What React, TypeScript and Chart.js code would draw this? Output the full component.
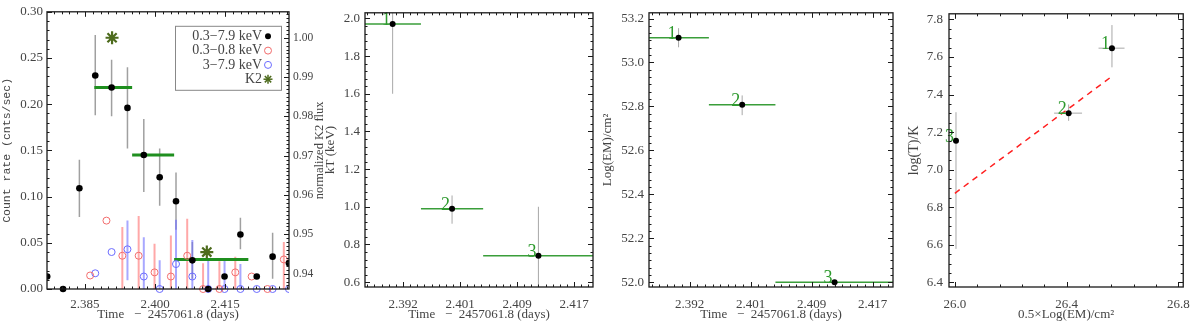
import React, { useEffect, useRef } from "react";
import { Chart, registerables } from "chart.js";
Chart.register(...registerables);

// ---------------- Panel 1: X-ray light curves ----------------
const lcTimes = [2.3769, 2.3803, 2.3838, 2.3872, 2.3907, 2.3941, 2.3976, 2.4010, 2.4045, 2.4080, 2.4114, 2.4149, 2.4183, 2.4218, 2.4252, 2.4287];
const rateBroad = [0.0135, 0.0, 0.109, 0.231, 0.218, 0.196, 0.145, 0.121, 0.095, 0.031, 0.0, 0.0135, 0.059, 0.0135, 0.035, 0.028];
const rateBroadLo = [0.0135, 0.0, 0.078, 0.188, 0.187, 0.152, 0.105, 0.090, 0.064, 0.011, 0.0, 0.0135, 0.043, 0.0135, 0.011, 0.028];
const rateBroadHi = [0.0135, 0.0, 0.140, 0.275, 0.248, 0.240, 0.184, 0.152, 0.126, 0.051, 0.0, 0.0135, 0.077, 0.0135, 0.061, 0.028];

const softTimes = [2.3861, 2.3896, 2.3930, 2.3965, 2.3999, 2.4034, 2.4069, 2.4103, 2.4138, 2.4172, 2.4207, 2.4241, 2.4276];
const rateSoft = [0.0146, 0.074, 0.036, 0.036, 0.018, 0.0135, 0.036, 0.0, 0.0, 0.018, 0.0135, 0.0, 0.032];
const rateSoftLo = [0.0146, 0.074, 0.0, 0.0, 0.0, 0.0, 0.0, 0.0, 0.0, 0.0, 0.0135, 0.0, 0.0];
const rateSoftHi = [0.0146, 0.074, 0.067, 0.079, 0.049, 0.058, 0.076, 0.028, 0.030, 0.035, 0.0135, 0.0, 0.051];

const hardTimes = [2.3872, 2.3907, 2.3941, 2.3976, 2.4010, 2.4045, 2.4080, 2.4114, 2.4149, 2.4183, 2.4218, 2.4252, 2.4287];
const rateHard = [0.017, 0.040, 0.043, 0.0135, 0.0, 0.027, 0.0135, 0.0, 0.0, 0.0, 0.0, 0.0, 0.0];
const rateHardLo = [0.017, 0.040, 0.0095, 0.0, 0.0, 0.0, 0.0, 0.0, 0.0, 0.0, 0.0, 0.0, 0.0];
const rateHardHi = [0.017, 0.040, 0.074, 0.056, 0.031, 0.075, 0.053, 0.032, 0.032, 0.027, 0.0, 0.0, 0.0];

const k2Times = [2.3908, 2.4111];
const k2Flux = [1.0, 0.9455];

const segStart = [2.387, 2.3951, 2.4041];
const segEnd = [2.3951, 2.4041, 2.42];
const segRate = [0.218, 0.145, 0.032];

const lcXTicks = [2.385, 2.4, 2.415];
const lcXLabels = ["2.385", "2.400", "2.415"];
const lcYTicks = [0, 0.05, 0.1, 0.15, 0.2, 0.25, 0.3];
const lcYLabels = ["0.00", "0.05", "0.10", "0.15", "0.20", "0.25", "0.30"];
const k2Ticks = [0.94, 0.95, 0.96, 0.97, 0.98, 0.99, 1.0];
const k2Labels = ["0.94", "0.95", "0.96", "0.97", "0.98", "0.99", "1.00"];

// ---------------- Panels 2-4: spectral fits ----------------
const specTimes = [2.391, 2.3996, 2.4121];
const specLabels = ["1", "2", "3"];
const kT = [1.97, 0.99, 0.74];
const kTLo = [1.6, 0.91, 0.5];
const kTHi = [2.1, 1.06, 1.0];
const logEM = [53.113, 52.807, 52.0];
const logEMLo = [53.069, 52.76, 52.0];
const logEMHi = [53.156, 52.85, 52.0];

const timeTicks = [2.3925, 2.40075, 2.409, 2.41725];
const timeLabels = ["2.392", "2.401", "2.409", "2.417"];
const kTTicks = [0.6, 0.8, 1.0, 1.2, 1.4, 1.6, 1.8, 2.0];
const kTLabels = ["0.6", "0.8", "1.0", "1.2", "1.4", "1.6", "1.8", "2.0"];
const emTicks = [52.0, 52.2, 52.4, 52.6, 52.8, 53.0, 53.2];
const emLabels = ["52.0", "52.2", "52.4", "52.6", "52.8", "53.0", "53.2"];

const halfEM = [26.562, 26.407, 26.004];
const halfEMLo = [26.514, 26.355, 26.004];
const halfEMHi = [26.607, 26.455, 26.004];
const logT = [7.647, 7.301, 7.154];
const logTLo = [7.545, 7.26, 6.578];
const logTHi = [7.77, 7.347, 7.306];
const fitX = [26.0, 26.56];
const fitY = [6.874, 7.495];
const emXTicks = [26.0, 26.4, 26.8];
const emXLabels = ["26.0", "26.4", "26.8"];
const tTicks = [6.4, 6.6, 6.8, 7.0, 7.2, 7.4, 7.6, 7.8];
const tLabels = ["6.4", "6.6", "6.8", "7.0", "7.2", "7.4", "7.6", "7.8"];

// ---------------- styling ----------------
const SERIF = "'Liberation Serif', 'Times New Roman', serif";
const MONO = "'Liberation Mono', 'Courier New', monospace";
const TXT = "#444";
const GREEN_BAR = "#1f8f1f";
const GREEN_THIN = "#3a9e3a";
const GREEN_TXT = "#2e9a2e";
const OLIVE = "#4d6b1d";
const RED = "#f26d6d";
const BLUE = "#6b6bff";

function line(ctx: any, x1: number, y1: number, x2: number, y2: number) {
  ctx.beginPath();
  ctx.moveTo(x1, y1);
  ctx.lineTo(x2, y2);
  ctx.stroke();
}

type TickSpec = { id: string; majors: number[]; minor: number; sides: string[] };
type Spec = { axes: TickSpec[]; legend?: boolean; sideTitle?: string };

function makePlugin(spec: Spec) {
  return {
    id: "idl",
    beforeDatasetsDraw(chart: any) {
      const { ctx, chartArea: a } = chart;
      ctx.save();
      ctx.beginPath();
      ctx.rect(a.left, a.top, a.right - a.left, a.bottom - a.top);
      ctx.clip();
      chart.data.datasets.forEach((ds: any, di: number) => {
        if (!ds.errY && !ds.errX) return;
        const meta = chart.getDatasetMeta(di);
        const xs = chart.scales[meta.xAxisID];
        const ys = chart.scales[meta.yAxisID];
        ctx.strokeStyle = ds.errColor;
        ctx.lineWidth = ds.errWidth;
        ds.data.forEach((p: any, i: number) => {
          const px = xs.getPixelForValue(p.x);
          const py = ys.getPixelForValue(p.y);
          if (ds.errY && ds.errY[1][i] > ds.errY[0][i]) {
            line(ctx, px, ys.getPixelForValue(ds.errY[0][i]), px, ys.getPixelForValue(ds.errY[1][i]));
          }
          if (ds.errX && ds.errX[1][i] > ds.errX[0][i]) {
            line(ctx, xs.getPixelForValue(ds.errX[0][i]), py, xs.getPixelForValue(ds.errX[1][i]), py);
          }
        });
      });
      ctx.restore();
    },
    afterDatasetsDraw(chart: any) {
      const { ctx } = chart;
      ctx.save();
      chart.data.datasets.forEach((ds: any, di: number) => {
        if (!ds.pointLabels) return;
        const meta = chart.getDatasetMeta(di);
        const xs = chart.scales[meta.xAxisID];
        const ys = chart.scales[meta.yAxisID];
        ctx.font = `18px ${SERIF}`;
        ctx.fillStyle = GREEN_TXT;
        ctx.textAlign = "right";
        ctx.textBaseline = "alphabetic";
        ds.data.forEach((p: any, i: number) => {
          ctx.fillText(ds.pointLabels[i], xs.getPixelForValue(p.x) - 2, ys.getPixelForValue(p.y) + 1);
        });
      });
      ctx.restore();
    },
    afterDraw(chart: any) {
      const { ctx, chartArea: a } = chart;
      ctx.save();
      ctx.strokeStyle = "#1a1a1a";
      ctx.lineWidth = 1.3;
      ctx.strokeRect(a.left, a.top, a.right - a.left, a.bottom - a.top);
      ctx.lineWidth = 1;
      for (const ax of spec.axes) {
        const s = chart.scales[ax.id];
        const ticks: [number, number][] = ax.majors.map((v) => [v, 5] as [number, number]);
        const base = ax.majors[0];
        const kmin = Math.ceil((s.min - base) / ax.minor - 1e-6);
        const kmax = Math.floor((s.max - base) / ax.minor + 1e-6);
        for (let k = kmin; k <= kmax; k++) {
          const v = base + k * ax.minor;
          if (!ax.majors.some((m) => Math.abs(m - v) < ax.minor * 0.3)) ticks.push([v, 2.5]);
        }
        for (const [v, len] of ticks) {
          const p = Math.round(s.getPixelForValue(v)) + 0.5;
          for (const side of ax.sides) {
            if (side === "bottom") line(ctx, p, a.bottom, p, a.bottom - len);
            if (side === "top") line(ctx, p, a.top, p, a.top + len);
            if (side === "left") line(ctx, a.left, p, a.left + len, p);
            if (side === "right") line(ctx, a.right, p, a.right - len, p);
          }
        }
      }
      if (spec.sideTitle) {
        ctx.save();
        ctx.translate(a.right + 31, (a.top + a.bottom) / 2);
        ctx.rotate(-Math.PI / 2);
        ctx.font = `12.5px ${SERIF}`;
        ctx.fillStyle = TXT;
        ctx.textAlign = "center";
        ctx.textBaseline = "middle";
        ctx.fillText(spec.sideTitle, 0, 0);
        ctx.restore();
      }
      if (spec.legend) {
        const bx0 = a.right - 114;
        const by0 = a.top + 14;
        const bw = 106;
        const bh = 64;
        ctx.fillStyle = "#fff";
        ctx.fillRect(bx0, by0, bw, bh);
        ctx.strokeStyle = "#888";
        ctx.lineWidth = 1;
        ctx.strokeRect(bx0 + 0.5, by0 + 0.5, bw, bh);
        const items = [
          { t: "0.3\u22127.9 keV", k: "dot", c: "#000" },
          { t: "0.3\u22120.8 keV", k: "ring", c: RED },
          { t: "3\u22127.9 keV", k: "ring", c: BLUE },
          { t: "K2", k: "star", c: OLIVE },
        ];
        ctx.font = `14px ${SERIF}`;
        ctx.textAlign = "right";
        ctx.textBaseline = "middle";
        items.forEach((it, i) => {
          const y = by0 + 10.5 + i * 14.3;
          const sx = bx0 + bw - 13;
          ctx.fillStyle = TXT;
          ctx.fillText(it.t, sx - 6, y);
          ctx.strokeStyle = it.c;
          ctx.fillStyle = it.c;
          if (it.k === "dot") {
            ctx.beginPath();
            ctx.arc(sx, y, 3, 0, Math.PI * 2);
            ctx.fill();
          } else if (it.k === "ring") {
            ctx.lineWidth = 1;
            ctx.beginPath();
            ctx.arc(sx, y, 3.5, 0, Math.PI * 2);
            ctx.stroke();
          } else {
            ctx.lineWidth = 1.5;
            const r = 4.5;
            for (let j = 0; j < 4; j++) {
              const ang = (j * Math.PI) / 4;
              line(ctx, sx - r * Math.cos(ang), y - r * Math.sin(ang), sx + r * Math.cos(ang), y + r * Math.sin(ang));
            }
          }
        });
      }
      ctx.restore();
    },
  };
}

function fixedAxis(values: number[], labels: string[], extra: any) {
  const { size = 13, width, height, title, titleFont, titlePad = 0, pad = 5, ...rest } = extra;
  return {
    type: "linear",
    ...rest,
    afterBuildTicks: (axis: any) => {
      axis.ticks = values.map((v) => ({ value: v }));
    },
    afterFit: (s: any) => {
      if (width !== undefined) s.width = width;
      if (height !== undefined) s.height = height;
    },
    ticks: {
      callback: (_v: any, i: number) => labels[i],
      font: { family: SERIF, size },
      color: TXT,
      padding: pad,
      maxRotation: 0,
      minRotation: 0,
      autoSkip: false,
    },
    grid: { display: false, drawTicks: false },
    border: { display: false },
    title: title
      ? { display: true, text: title, color: TXT, font: titleFont || { family: SERIF, size: 13 }, padding: { top: titlePad, bottom: 0 } }
      : { display: false },
  };
}

const baseOptions = (padRight: number) => ({
  responsive: false,
  animation: false,
  events: [],
  layout: { padding: { left: 0, right: padRight, top: 1, bottom: 0 }, autoPadding: false },
  plugins: { legend: { display: false }, tooltip: { enabled: false } },
});

const pts = (xs: number[], ys: number[]) => xs.map((x, i) => ({ x, y: ys[i] }));
const TIME_TITLE = "Time   \u2212  2457061.8 (days)";

function lightCurveConfig(): any {
  return {
    type: "scatter",
    data: {
      datasets: [
        {
          data: pts(lcTimes, rateBroad),
          errY: [rateBroadLo, rateBroadHi],
          errColor: "#a0a0a0",
          errWidth: 1.5,
          pointRadius: 3.3,
          backgroundColor: "#000",
          borderColor: "#000",
          borderWidth: 0,
          yAxisID: "y",
          clip: { left: 0, right: 0, top: 0, bottom: 8 },
        },
        {
          data: pts(softTimes, rateSoft),
          errY: [rateSoftLo, rateSoftHi],
          errColor: "rgba(255,110,110,0.6)",
          errWidth: 2,
          pointRadius: 3.5,
          backgroundColor: "rgba(0,0,0,0)",
          borderColor: RED,
          borderWidth: 1,
          yAxisID: "y",
          clip: { left: 0, right: 0, top: 0, bottom: 8 },
        },
        {
          data: pts(hardTimes, rateHard),
          errY: [rateHardLo, rateHardHi],
          errColor: "rgba(110,110,255,0.6)",
          errWidth: 2,
          pointRadius: 3.5,
          backgroundColor: "rgba(0,0,0,0)",
          borderColor: BLUE,
          borderWidth: 1,
          yAxisID: "y",
          clip: { left: 0, right: 0, top: 0, bottom: 8 },
        },
        {
          data: pts(k2Times, k2Flux),
          pointStyle: "star",
          pointRadius: 6.5,
          borderColor: OLIVE,
          backgroundColor: OLIVE,
          borderWidth: 2.2,
          yAxisID: "y2",
        },
        ...segStart.map((s, i) => ({
          data: [
            { x: s, y: segRate[i] },
            { x: segEnd[i], y: segRate[i] },
          ],
          showLine: true,
          pointRadius: 0,
          borderColor: GREEN_BAR,
          borderWidth: 3,
          yAxisID: "y",
        })),
      ],
    },
    options: {
      ...baseOptions(0),
      scales: {
        x: fixedAxis(lcXTicks, lcXLabels, { position: "bottom", min: 2.37686, max: 2.42871, height: 33, pad: 8, title: TIME_TITLE }),
        y: fixedAxis(lcYTicks, lcYLabels, {
          position: "left",
          min: 0,
          max: 0.3,
          width: 47,
          pad: 4,
          title: "Count rate (cnts/sec)",
          titleFont: { family: MONO, size: 11.5 },
        }),
        y2: fixedAxis(k2Ticks, k2Labels, { position: "right", min: 0.9361, max: 1.0066, width: 37, pad: 4, size: 11.5 }),
      },
    },
    plugins: [
      makePlugin({
        axes: [
          { id: "x", majors: lcXTicks, minor: 0.015 / 9, sides: ["bottom", "top"] },
          { id: "y", majors: lcYTicks, minor: 0.01, sides: ["left"] },
          { id: "y2", majors: k2Ticks, minor: 0.001, sides: ["right"] },
        ],
        legend: true,
        sideTitle: "normalized K2 flux",
      }),
    ],
  };
}

function timePanelConfig(vals: number[], lo: number[], hi: number[], yTicks: number[], yLabels: string[], yMin: number, yMax: number, yTitle: string, yWidth: number, titlePad: number, yMinor: number): any {
  return {
    type: "scatter",
    data: {
      datasets: [
        {
          data: pts(specTimes, vals),
          errY: [lo, hi],
          errColor: "#a8a8a8",
          errWidth: 1,
          pointLabels: specLabels,
          pointRadius: 3,
          backgroundColor: "#000",
          borderColor: "#000",
          borderWidth: 0,
          clip: false,
        },
        ...segStart.map((s, i) => ({
          data: [
            { x: s, y: vals[i] },
            { x: segEnd[i], y: vals[i] },
          ],
          showLine: true,
          pointRadius: 0,
          borderColor: GREEN_THIN,
          borderWidth: 1.5,
        })),
      ],
    },
    options: {
      ...baseOptions(7),
      scales: {
        x: fixedAxis(timeTicks, timeLabels, { position: "bottom", min: 2.387, max: 2.42, height: 35, pad: 10, title: TIME_TITLE }),
        y: fixedAxis(yTicks, yLabels, { position: "left", min: yMin, max: yMax, width: yWidth, pad: 5, title: yTitle, titlePad }),
      },
    },
    plugins: [
      makePlugin({
        axes: [
          { id: "x", majors: timeTicks, minor: 0.00825 / 8, sides: ["bottom", "top"] },
          { id: "y", majors: yTicks, minor: yMinor, sides: ["left", "right"] },
        ],
      }),
    ],
  };
}

function ratioConfig(): any {
  return {
    type: "scatter",
    data: {
      datasets: [
        {
          data: pts(halfEM, logT),
          errY: [logTLo, logTHi],
          errX: [halfEMLo, halfEMHi],
          errColor: "#a8a8a8",
          errWidth: 1,
          pointLabels: specLabels,
          pointRadius: 3,
          backgroundColor: "#000",
          borderColor: "#000",
          borderWidth: 0,
          clip: false,
        },
        {
          data: pts(fitX, fitY),
          showLine: true,
          pointRadius: 0,
          borderColor: "#ff2020",
          borderWidth: 1.5,
          borderDash: [6, 5],
        },
      ],
    },
    options: {
      ...baseOptions(7),
      scales: {
        x: fixedAxis(emXTicks, emXLabels, { position: "bottom", min: 25.979, max: 26.817, height: 35, pad: 10, title: "0.5\u00d7Log(EM)/cm\u00b2" }),
        y: fixedAxis(tTicks, tLabels, { position: "left", min: 6.375, max: 7.83, width: 49, pad: 6, title: "log(T)/K", titlePad: 6, titleFont: { family: SERIF, size: 14 } }),
      },
    },
    plugins: [
      makePlugin({
        axes: [
          { id: "x", majors: emXTicks, minor: 0.08, sides: ["bottom", "top"] },
          { id: "y", majors: tTicks, minor: 0.05, sides: ["left", "right"] },
        ],
      }),
    ],
  };
}

function Panel({ left, width, make }: { left: number; width: number; make: () => any }) {
  const ref = useRef<HTMLCanvasElement>(null);
  useEffect(() => {
    const chart = new Chart(ref.current as HTMLCanvasElement, make());
    return () => chart.destroy();
  }, []);
  return (
    <div style={{ position: "absolute", left, top: 0, width, height: 322 }}>
      <canvas ref={ref} width={width} height={322} style={{ width, height: 322, display: "block" }} />
    </div>
  );
}

export default function App() {
  return (
    <div style={{ position: "fixed", left: 0, top: 0, width: 1200, height: 322, background: "#fff", overflow: "hidden" }}>
      <Panel left={0} width={326} make={lightCurveConfig} />
      <Panel
        left={300}
        width={300}
        make={() => timePanelConfig(kT, kTLo, kTHi, kTTicks, kTLabels, 0.574, 2.03, "kT (keV)", 65, 23, 0.04)}
      />
      <Panel
        left={600}
        width={300}
        make={() => timePanelConfig(logEM, logEMLo, logEMHi, emTicks, emLabels, 51.978, 53.226, "Log(EM)/cm\u00b2", 49, 0, 0.2 / 6)}
      />
      <Panel left={900} width={300} make={ratioConfig} />
    </div>
  );
}
